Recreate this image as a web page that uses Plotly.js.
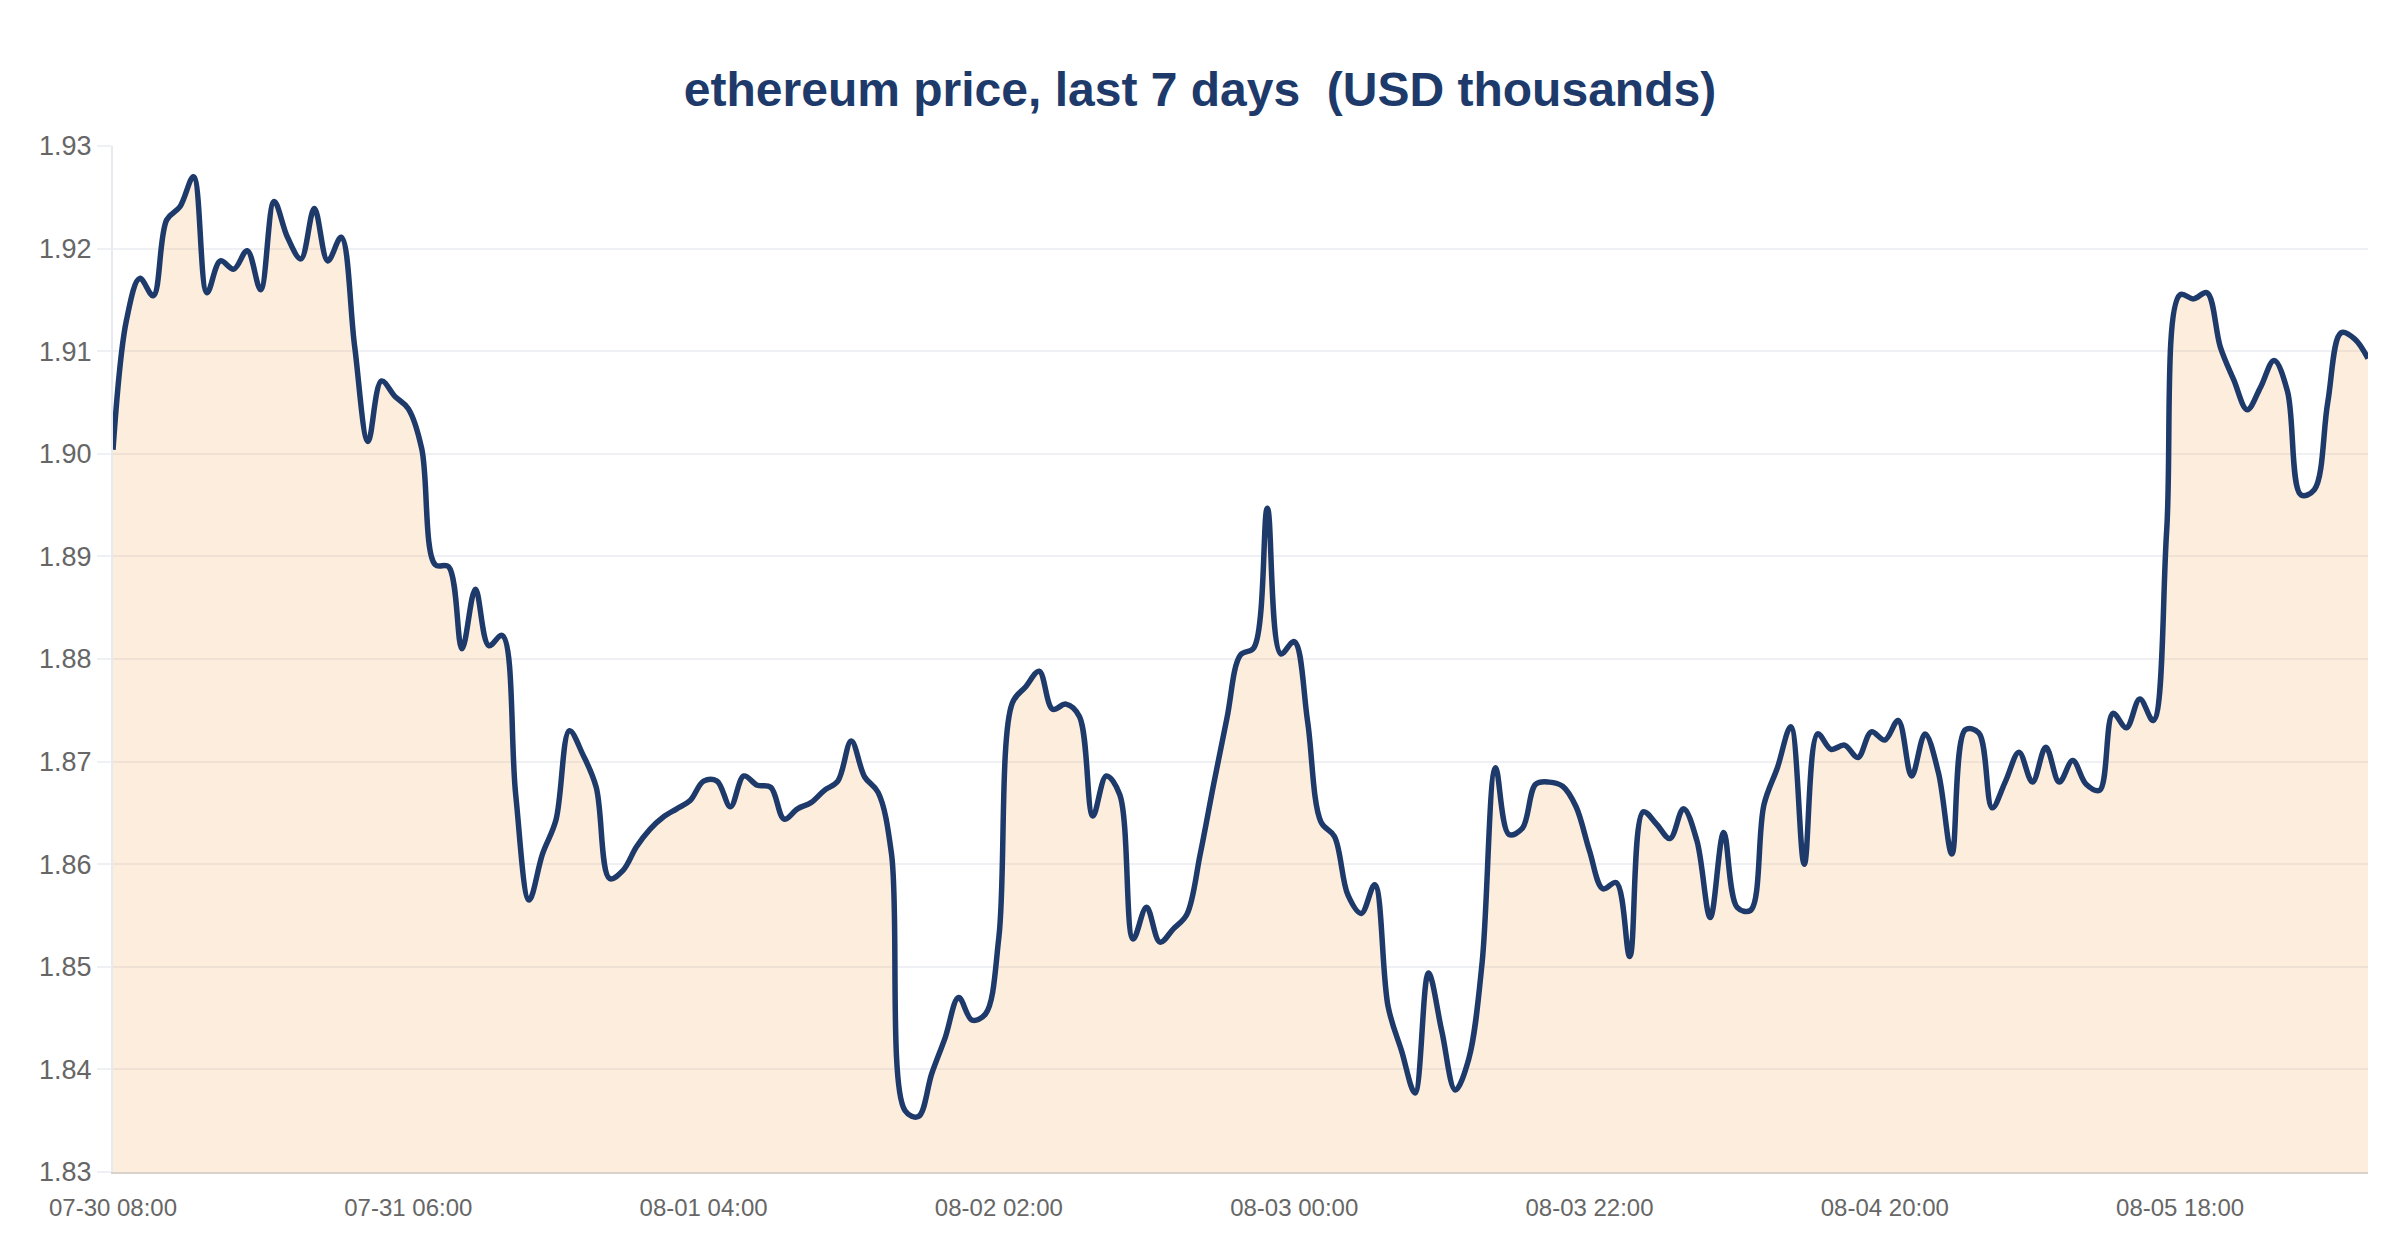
<!DOCTYPE html>
<html>
<head>
<meta charset="utf-8">
<script src="https://cdn.plot.ly/plotly-3.0.1.min.js"></script>
<style>html,body{margin:0;padding:0;background:#fff;}#chart{width:2400px;height:1260px;}</style>
</head>
<body>
<div id="chart"></div>
<script>
// Hourly ETH price (USD thousands), starting 07-30 08:00
const startTime = Date.UTC(2023, 6, 30, 8, 0, 0);
const priceValues = [
  1.9004, 1.9130, 1.9171, 1.9154, 1.9228, 1.9241, 1.9270, 1.9157, 1.9188, 1.9180,
  1.9198, 1.9160, 1.9246, 1.9211, 1.9190, 1.9239, 1.9188, 1.9211, 1.9105, 1.9012,
  1.9071, 1.9056, 1.9044, 1.9005, 1.8892, 1.8890, 1.8810, 1.8868, 1.8813, 1.8823,
  1.8668, 1.8565, 1.8610, 1.8643, 1.8730, 1.8707, 1.8675, 1.8586, 1.8594, 1.8617,
  1.8634, 1.8646, 1.8654, 1.8662, 1.8681, 1.8681, 1.8656, 1.8686, 1.8677, 1.8675,
  1.8644, 1.8654, 1.8660, 1.8672, 1.8681, 1.8720, 1.8685, 1.8670, 1.8610, 1.8360,
  1.8354, 1.8396, 1.8431, 1.8470, 1.8448, 1.8454, 1.8529, 1.8757, 1.8773, 1.8788,
  1.8751, 1.8756, 1.8744, 1.8647, 1.8686, 1.8668, 1.8527, 1.8558, 1.8524, 1.8537,
  1.8551, 1.8610, 1.8678, 1.8743, 1.8804, 1.8811, 1.8947, 1.8805, 1.8817, 1.8739,
  1.8641, 1.8627, 1.8570, 1.8552, 1.8580, 1.8461, 1.8418, 1.8377, 1.8494, 1.8437,
  1.8380, 1.8410, 1.8504, 1.8694, 1.8629, 1.8635, 1.8678, 1.8680, 1.8676, 1.8656,
  1.8613, 1.8576, 1.8582, 1.8510, 1.8651, 1.8639, 1.8625, 1.8654, 1.8623, 1.8548,
  1.8631, 1.8558, 1.8555, 1.8658, 1.8694, 1.8734, 1.8600, 1.8727, 1.8712, 1.8716,
  1.8704, 1.8729, 1.8721, 1.8740, 1.8686, 1.8727, 1.8689, 1.8610, 1.8731, 1.8728,
  1.8655, 1.8681, 1.8709, 1.8680, 1.8714, 1.8680, 1.8701, 1.8678, 1.8672, 1.8747,
  1.8733, 1.8761, 1.8740, 1.8925, 1.9155, 1.9151, 1.9157, 1.9104, 1.9072, 1.9043,
  1.9065, 1.9091, 1.9061, 1.8960, 1.8965, 1.9050, 1.9118, 1.9112, 1.9093
];
const yTickValues = [1.83, 1.84, 1.85, 1.86, 1.87, 1.88, 1.89, 1.90, 1.91, 1.92, 1.93];
const titleText = 'ethereum price, last 7 days \u00a0(USD thousands)';

function fmt(ms) {
  return new Date(ms).toISOString().slice(0, 19).replace('T', ' ');
}
const timeLabels = priceValues.map((_, i) => fmt(startTime + i * 3600000));

const trace = {
  type: 'scatter',
  mode: 'lines',
  x: timeLabels,
  y: priceValues,
  line: {color: '#1d3a6b', width: 5.5, shape: 'spline', smoothing: 1},
  fill: 'tozeroy',
  fillcolor: 'rgba(242,160,70,0.19)',
  hoverinfo: 'skip'
};

const layout = {
  width: 2400,
  height: 1260,
  paper_bgcolor: '#ffffff',
  plot_bgcolor: '#ffffff',
  margin: {l: 113, r: 32, t: 146, b: 88, pad: 0},
  showlegend: false,
  font: {family: 'Liberation Sans, Arial, sans-serif', color: '#666666'},
  title: {
    text: '<b>' + titleText + '</b>',
    font: {family: 'Liberation Sans, Arial, sans-serif', size: 48, color: '#1d3a6b'},
    x: 0.5, xanchor: 'center',
    y: 1 - 89 / 1260, yanchor: 'middle', yref: 'container'
  },
  xaxis: {
    type: 'date',
    range: [timeLabels[0], timeLabels[timeLabels.length - 1]],
    tick0: timeLabels[0],
    dtick: 22 * 3600000,
    tickformat: '%m-%d %H:%M',
    showgrid: false,
    zeroline: false,
    showline: true,
    linecolor: '#d9d2cb',
    linewidth: 2,
    ticks: '',
    ticklabelstandoff: 13,
    tickfont: {size: 24, color: '#666666'}
  },
  yaxis: {
    range: [1.83, 1.93],
    tickvals: yTickValues,
    tickformat: '.2f',
    showgrid: true,
    gridcolor: '#eef0f4',
    gridwidth: 2,
    zeroline: false,
    showline: true,
    linecolor: '#e6e9ef',
    linewidth: 2,
    ticks: 'outside',
    ticklen: 14,
    tickwidth: 2,
    tickcolor: '#eef0f4',
    tickfont: {size: 27, color: '#666666'}
  }
};

Plotly.newPlot('chart', [trace], layout, {displayModeBar: false, staticPlot: true});
</script>
</body>
</html>
